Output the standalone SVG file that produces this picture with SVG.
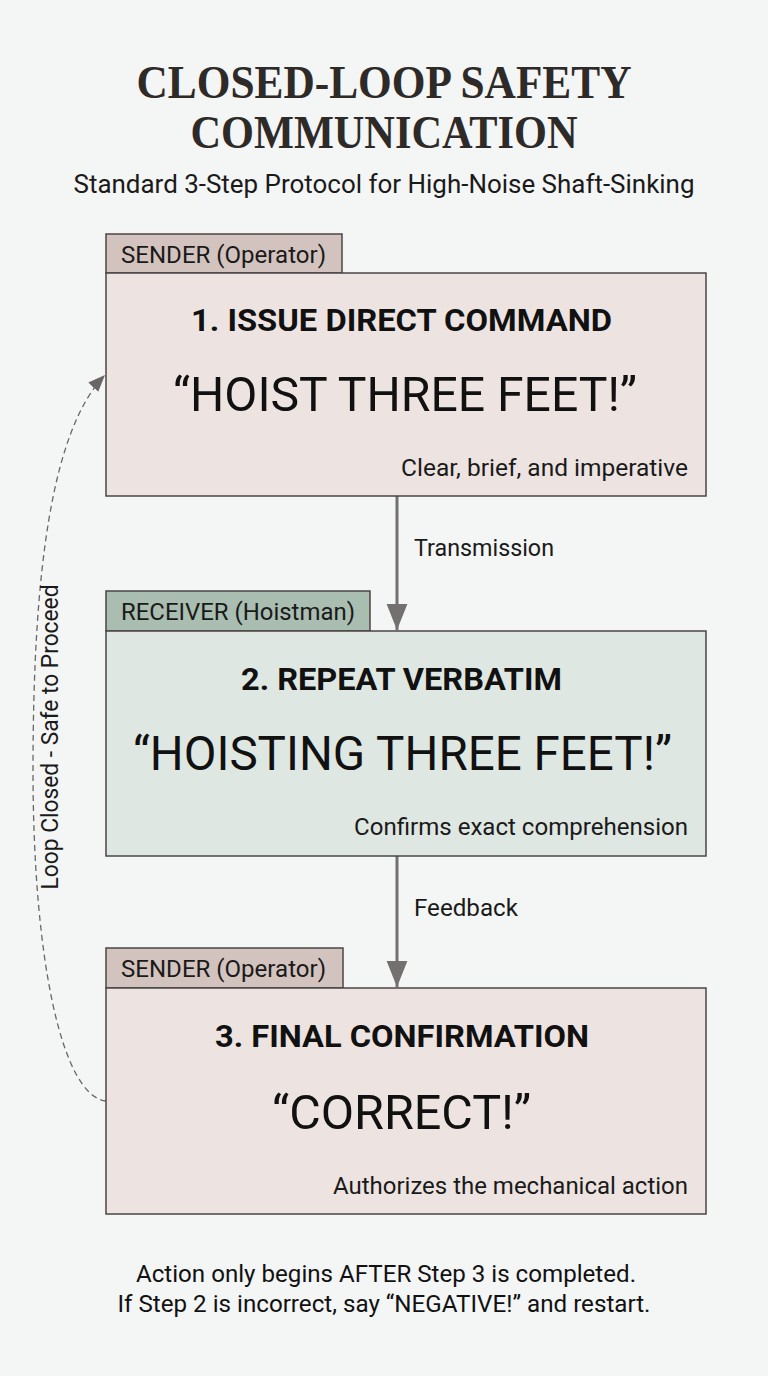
<svg xmlns="http://www.w3.org/2000/svg" width="768" height="1376" viewBox="0 0 768 1376">
<defs>
<style>
.title{font-family:"Liberation Serif","DejaVu Serif",serif;font-weight:bold;font-size:46px;fill:#2e2a28;text-anchor:middle}
.sub{font-family:Roboto,"Liberation Sans",sans-serif;font-size:25px;fill:#1a1a1a;text-anchor:middle}
.tab{font-family:Roboto,"Liberation Sans",sans-serif;font-size:23px;fill:#1a1a1a}
.head{font-family:Roboto,"Liberation Sans",sans-serif;font-weight:bold;font-size:32px;fill:#111;text-anchor:middle}
.quote{font-family:Roboto,"Liberation Sans",sans-serif;font-size:48px;fill:#111;text-anchor:middle}
.note{font-family:Roboto,"Liberation Sans",sans-serif;font-size:24px;fill:#1a1a1a;text-anchor:end}
.lbl{font-family:Roboto,"Liberation Sans",sans-serif;font-size:23px;fill:#1a1a1a}
.foot{font-family:Roboto,"Liberation Sans",sans-serif;font-size:24px;fill:#111;text-anchor:middle}
.sendBox{fill:#ede4e1;stroke:#4a4646;stroke-width:1.5}
.sendTab{fill:#d3c3be;stroke:#4a4646;stroke-width:1.5}
.recvBox{fill:#dfe7e2;stroke:#4a4646;stroke-width:1.5}
.recvTab{fill:#a9bdb0;stroke:#4a4646;stroke-width:1.5}
.conn{stroke:#757070;stroke-width:3;fill:none}
.loop{stroke:#6a6666;stroke-width:1.3;fill:none;stroke-dasharray:6 4}
</style>
<marker id="ahBig" viewBox="0 0 10 10" refX="10" refY="5" markerWidth="26" markerHeight="26" markerUnits="userSpaceOnUse" orient="auto">
<path d="M0,1 L10,5 L0,9 z" fill="#757070"/>
</marker>
<marker id="ahLoop" viewBox="0 0 10 10" refX="10" refY="5" markerWidth="17" markerHeight="17" markerUnits="userSpaceOnUse" orient="auto">
<path d="M0,1 L10,5 L0,9 z" fill="#6a6666"/>
</marker>
</defs>
<rect x="0" y="0" width="768" height="1376" fill="#f4f5f5"/>
<g id="title">
<text class="title" x="384" y="98" textLength="495" lengthAdjust="spacingAndGlyphs">CLOSED-LOOP SAFETY</text>
<text class="title" x="384" y="148" textLength="387" lengthAdjust="spacingAndGlyphs">COMMUNICATION</text>
<text class="sub" x="384" y="193" textLength="621" lengthAdjust="spacingAndGlyphs">Standard 3-Step Protocol for High-Noise Shaft-Sinking</text>
</g>
<g id="connectors">
<line class="conn" x1="397" y1="496" x2="397" y2="630" marker-end="url(#ahBig)"/>
<line class="conn" x1="397" y1="856" x2="397" y2="987" marker-end="url(#ahBig)"/>
<path class="loop" d="M106,1101 C62,1096 33,960 33,770 C33,570 52,430 105,375" marker-end="url(#ahLoop)"/>
<text class="lbl" x="414" y="556" textLength="140" lengthAdjust="spacingAndGlyphs">Transmission</text>
<text class="lbl" x="414" y="916" textLength="104" lengthAdjust="spacingAndGlyphs">Feedback</text>
<text class="lbl" transform="translate(58,737) rotate(-90)" text-anchor="middle" textLength="305" lengthAdjust="spacingAndGlyphs">Loop Closed - Safe to Proceed</text>
</g>
<g id="step1">
<rect class="sendTab" x="106" y="234" width="236" height="39"/>
<text class="tab" x="121" y="263" textLength="205" lengthAdjust="spacingAndGlyphs">SENDER (Operator)</text>
<rect class="sendBox" x="106" y="273" width="600" height="223"/>
<text class="head" x="401.5" y="331" textLength="421" lengthAdjust="spacingAndGlyphs">1. ISSUE DIRECT COMMAND</text>
<text class="quote" x="405" y="411" textLength="464" lengthAdjust="spacingAndGlyphs">“HOIST THREE FEET!”</text>
<text class="note" x="688" y="476" textLength="287" lengthAdjust="spacingAndGlyphs">Clear, brief, and imperative</text>
</g>
<g id="step2">
<rect class="recvTab" x="106" y="591" width="264" height="40"/>
<text class="tab" x="121" y="620" textLength="234" lengthAdjust="spacingAndGlyphs">RECEIVER (Hoistman)</text>
<rect class="recvBox" x="106" y="631" width="600" height="225"/>
<text class="head" x="401.5" y="690" textLength="321" lengthAdjust="spacingAndGlyphs">2. REPEAT VERBATIM</text>
<text class="quote" x="402.5" y="770" textLength="539" lengthAdjust="spacingAndGlyphs">“HOISTING THREE FEET!”</text>
<text class="note" x="688" y="835" textLength="334" lengthAdjust="spacingAndGlyphs">Confirms exact comprehension</text>
</g>
<g id="step3">
<rect class="sendTab" x="106" y="948" width="237" height="40"/>
<text class="tab" x="121" y="977" textLength="205" lengthAdjust="spacingAndGlyphs">SENDER (Operator)</text>
<rect class="sendBox" x="106" y="988" width="600" height="226"/>
<text class="head" x="402" y="1047" textLength="374" lengthAdjust="spacingAndGlyphs">3. FINAL CONFIRMATION</text>
<text class="quote" x="401.5" y="1129" textLength="259" lengthAdjust="spacingAndGlyphs">“CORRECT!”</text>
<text class="note" x="688" y="1194" textLength="355" lengthAdjust="spacingAndGlyphs">Authorizes the mechanical action</text>
</g>
<g id="footer">
<text class="foot" x="386" y="1282" textLength="500" lengthAdjust="spacingAndGlyphs">Action only begins AFTER Step 3 is completed.</text>
<text class="foot" x="384" y="1312" textLength="533" lengthAdjust="spacingAndGlyphs">If Step 2 is incorrect, say “NEGATIVE!” and restart.</text>
</g>
</svg>
